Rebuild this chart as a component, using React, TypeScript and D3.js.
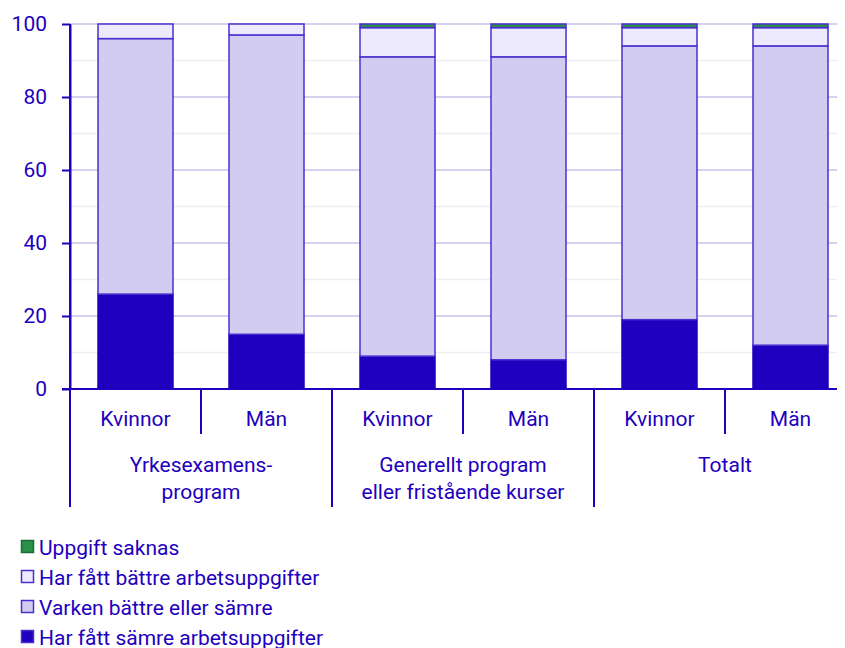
import React, { useEffect, useRef } from 'react';
import * as d3 from 'd3';

// data
const groups = ['Yrkesexamens-\nprogram', 'Generellt program\neller fristående kurser', 'Totalt'];
const genders = ['Kvinnor', 'Män'];
const seriesNames = ['Har fått sämre arbetsuppgifter', 'Varken bättre eller sämre', 'Har fått bättre arbetsuppgifter', 'Uppgift saknas'];
const samre = [26, 15, 9, 8, 19, 12];
const varken = [70, 82, 82, 83, 75, 82];
const battre = [4, 3, 8, 8, 5, 5];
const saknas = [0, 0, 1, 1, 1, 1];
const yTicks = [0, 20, 40, 60, 80, 100];

const colors = ['#1e00be', '#d2cdf0', '#eceafc', '#2a9148'];
const textColor = '#1e00be';
const fontSize = '21px';

const App = () => {
    const svgRef = useRef<SVGSVGElement>(null);

    useEffect(() => {
        const svg = d3.select(svgRef.current);
        svg.selectAll('*').remove();

        const left = 62, top = 16, plotBottom = 381;
        const cats = groups.flatMap((g, gi) => genders.map((s, si) => `${gi}-${si}`));

        const x = d3.scaleBand().domain(cats).range([left, left + 131 * 6]).paddingInner(56 / 131).paddingOuter(28 / 131);
        const step = x.step();
        const y = d3.scaleLinear().domain([0, 100]).range([plotBottom, top]);

        // grid
        const g = svg.append('g');
        d3.range(10, 100, 20).forEach(v => {
            g.append('line').attr('x1', left).attr('x2', 845).attr('y1', y(v)).attr('y2', y(v))
                .attr('stroke', '#ededf2').attr('stroke-width', 1.5);
        });
        yTicks.filter(v => v > 0).forEach(v => {
            g.append('line').attr('x1', left).attr('x2', 845).attr('y1', y(v)).attr('y2', y(v))
                .attr('stroke', '#d4d2ee').attr('stroke-width', 2);
        });

        // stacked bars
        const rows = cats.map((c, i) => ({ cat: c, s0: samre[i], s1: varken[i], s2: battre[i], s3: saknas[i] }));
        const stack = d3.stack<any>().keys(['s0', 's1', 's2', 's3'])(rows);
        stack.forEach((layer, li) => {
            svg.append('g').selectAll('rect').data(layer).enter().append('rect')
                .filter(d => d[1] - d[0] > 0)
                .attr('x', d => x(d.data.cat)!)
                .attr('y', d => y(d[1]))
                .attr('width', x.bandwidth())
                .attr('height', d => y(d[0]) - y(d[1]))
                .attr('fill', colors[li])
                .attr('stroke', li === 0 ? '#1e00be' : '#4a2fd0')
                .attr('stroke-width', 1.5);
        });

        // y axis
        const ya = svg.append('g').attr('transform', `translate(${left},0)`)
            .call(d3.axisLeft(y).tickValues(yTicks).tickSize(8).tickPadding(15).tickSizeOuter(0));
        ya.select('.domain').attr('stroke', textColor).attr('stroke-width', 2);
        ya.selectAll('.tick line').attr('stroke', textColor).attr('stroke-width', 2);
        ya.selectAll('.tick text').attr('fill', textColor).style('font-size', fontSize).style('font-family', 'Roboto');

        // x axis
        svg.append('line').attr('x1', left - 8).attr('x2', 845).attr('y1', plotBottom).attr('y2', plotBottom)
            .attr('stroke', textColor).attr('stroke-width', 2);
        svg.append('line').attr('x1', left).attr('x2', left).attr('y1', top).attr('y2', 499)
            .attr('stroke', textColor).attr('stroke-width', 2);
        cats.forEach((c, i) => {
            const bx = left + step * i;
            if (i > 0) {
                svg.append('line').attr('x1', bx).attr('x2', bx).attr('y1', plotBottom)
                    .attr('y2', i % 2 === 0 ? 499 : 426).attr('stroke', textColor).attr('stroke-width', 2);
            }
            svg.append('text').attr('x', bx + step / 2).attr('y', 418).attr('text-anchor', 'middle')
                .attr('fill', textColor).style('font-size', fontSize).style('font-family', 'Roboto')
                .text(genders[i % 2]);
        });
        groups.forEach((grp, gi) => {
            const cx = left + step * (gi * 2 + 1);
            grp.split('\n').forEach((line, li) => {
                svg.append('text').attr('x', cx).attr('y', 464 + li * 27).attr('text-anchor', 'middle')
                    .attr('fill', textColor).style('font-size', fontSize).style('font-family', 'Roboto')
                    .text(line);
            });
        });

        // legend
        const order = [3, 2, 1, 0];
        order.forEach((si, k) => {
            const ly = 539 + k * 30;
            svg.append('rect').attr('x', 13.5).attr('y', ly - 6.5).attr('width', 12).attr('height', 12)
                .attr('fill', colors[si]).attr('stroke', si === 3 ? '#1e6b3a' : '#4a2fd0').attr('stroke-width', 1.5);
            svg.append('text').attr('x', 31).attr('y', ly + 7.5).attr('fill', textColor)
                .style('font-size', fontSize).style('font-family', 'Roboto').text(seriesNames[si]);
        });
    }, []);

    return <svg ref={svgRef} width={837} height={640} style={{ display: 'block' }} />;
};

export default App;
